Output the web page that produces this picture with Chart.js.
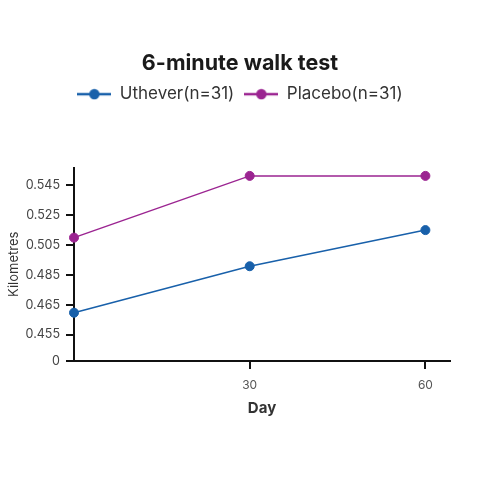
<!DOCTYPE html>
<html>
<head>
<meta charset="utf-8">
<script src="https://cdn.jsdelivr.net/npm/chart.js@4.4.1/dist/chart.umd.min.js"></script>
<style>
  html, body { margin: 0; background: #fff; }
  #wrap { width: 480px; height: 480px; }
</style>
</head>
<body>
<div id="wrap"><canvas id="walk"></canvas></div>
<script>
const days = [0, 30, 60];
const uthever = [0.4625, 0.491, 0.515];
const placebo = [0.510, 0.551, 0.551];
const dayTicks = [30, 60];
const kmTicks = [0, 0.455, 0.465, 0.485, 0.505, 0.525, 0.545];

// the y axis in the picture is not linear below 0.465, so the scale bends there
const bends = [[0, 0], [0.455, 26.4], [0.465, 55.7], [0.545, 176.4], [0.6, 259.4]];
function toAxis(v) {
  for (let i = 1; i < bends.length; i++) {
    const a = bends[i - 1], b = bends[i];
    if (v <= b[0] || i === bends.length - 1) return a[1] + (v - a[0]) * (b[1] - a[1]) / (b[0] - a[0]);
  }
}
function fromAxis(d) {
  for (let i = 1; i < bends.length; i++) {
    const a = bends[i - 1], b = bends[i];
    if (d <= b[1] || i === bends.length - 1) return a[0] + (d - a[1]) * (b[0] - a[0]) / (b[1] - a[1]);
  }
}
class BentScale extends Chart.LinearScale {
  static id = 'bent';
  static defaults = Chart.LinearScale.defaults;
  getPixelForValue(v) { return super.getPixelForValue(toAxis(v)); }
  getValueForPixel(p) { return fromAxis(super.getValueForPixel(p)); }
}
Chart.register(BentScale);

function legendMark(color) {
  const c = document.createElement('canvas');
  c.width = 34; c.height = 12;
  const g = c.getContext('2d');
  g.strokeStyle = color; g.lineWidth = 2.5;
  g.beginPath(); g.moveTo(0, 6); g.lineTo(34, 6); g.stroke();
  g.fillStyle = color;
  g.beginPath(); g.arc(17, 6, 5.2, 0, Math.PI * 2); g.fill();
  return c;
}

const blue = 'rgb(24, 96, 170)';
const purple = 'rgb(155, 36, 145)';

const legendGap = {
  id: 'legendGap',
  beforeInit(chart) {
    const fit = chart.legend.fit;
    chart.legend.fit = function () {
      fit.bind(chart.legend)();
      this.height += 55;
    };
  }
};

const font = 'Inter, "DejaVu Sans", sans-serif';

new Chart(document.getElementById('walk'), {
  type: 'line',
  data: {
    datasets: [
      {
        label: 'Uthever(n=31)',
        data: days.map((d, i) => ({ x: d, y: uthever[i] })),
        borderColor: blue, backgroundColor: blue,
        borderWidth: 1.5, pointRadius: 4.5, pointBorderWidth: 1,
        clip: false
      },
      {
        label: 'Placebo(n=31)',
        data: days.map((d, i) => ({ x: d, y: placebo[i] })),
        borderColor: purple, backgroundColor: purple,
        borderWidth: 1.5, pointRadius: 4.5, pointBorderWidth: 1,
        clip: false
      }
    ]
  },
  options: {
    responsive: true,
    maintainAspectRatio: false,
    animation: false,
    layout: { padding: { left: 0, right: 0, top: 0, bottom: 56 } },
    scales: {
      x: {
        type: 'linear', min: 0, max: 64.2,
        afterBuildTicks: s => { s.ticks = dayTicks.map(v => ({ value: v })); },
        afterFit: s => { s.height = 63; },
        grid: { drawOnChartArea: false, drawTicks: true, tickLength: 8, color: '#111', lineWidth: 2 },
        border: { color: '#111', width: 2 },
        ticks: { padding: 9, color: '#555', font: { family: font, size: 12 } },
        title: { display: true, text: 'Day', color: '#333', padding: { top: 0, bottom: 7 },
                 font: { family: font, size: 15, weight: 'bold' } }
      },
      y: {
        type: 'bent', min: 0, max: 193.7, bounds: 'data',
        afterBuildTicks: s => { s.ticks = kmTicks.map(v => ({ value: v })); },
        afterFit: s => { s.width = 74; },
        grid: { drawOnChartArea: false, drawTicks: true, tickLength: 8, color: '#111', lineWidth: 2 },
        border: { color: '#111', width: 2 },
        ticks: { padding: 6, color: '#444', font: { family: font, size: 12.5 },
                 callback: v => v === 0 ? '0' : v.toFixed(3) },
        title: { display: true, text: 'Kilometres', color: '#333', padding: { top: 6, bottom: 0 },
                 font: { family: font, size: 13 } }
      },
      // empty space on the right so the plot ends where the reference's does
      right: {
        type: 'linear', position: 'right', display: true,
        afterFit: s => { s.width = 30; },
        grid: { display: false }, border: { display: false }, ticks: { display: false }
      }
    },
    plugins: {
      title: {
        display: true, text: '6-minute walk test', color: '#1a1a1a',
        font: { family: font, size: 21.5, weight: 'bold', lineHeight: 1.1 },
        padding: { top: 52, bottom: 0 }
      },
      legend: {
        labels: {
          color: '#333', font: { family: font, size: 17 },
          usePointStyle: true, pointStyleWidth: 34, padding: 10,
          generateLabels: chart => chart.data.datasets.map((ds, i) => ({
            text: ds.label, datasetIndex: i, fontColor: '#333',
            pointStyle: legendMark(ds.borderColor), lineWidth: 0,
            strokeStyle: ds.borderColor, fillStyle: ds.borderColor
          }))
        }
      },
      tooltip: { enabled: false }
    }
  },
  plugins: [legendGap]
});
</script>
</body>
</html>
